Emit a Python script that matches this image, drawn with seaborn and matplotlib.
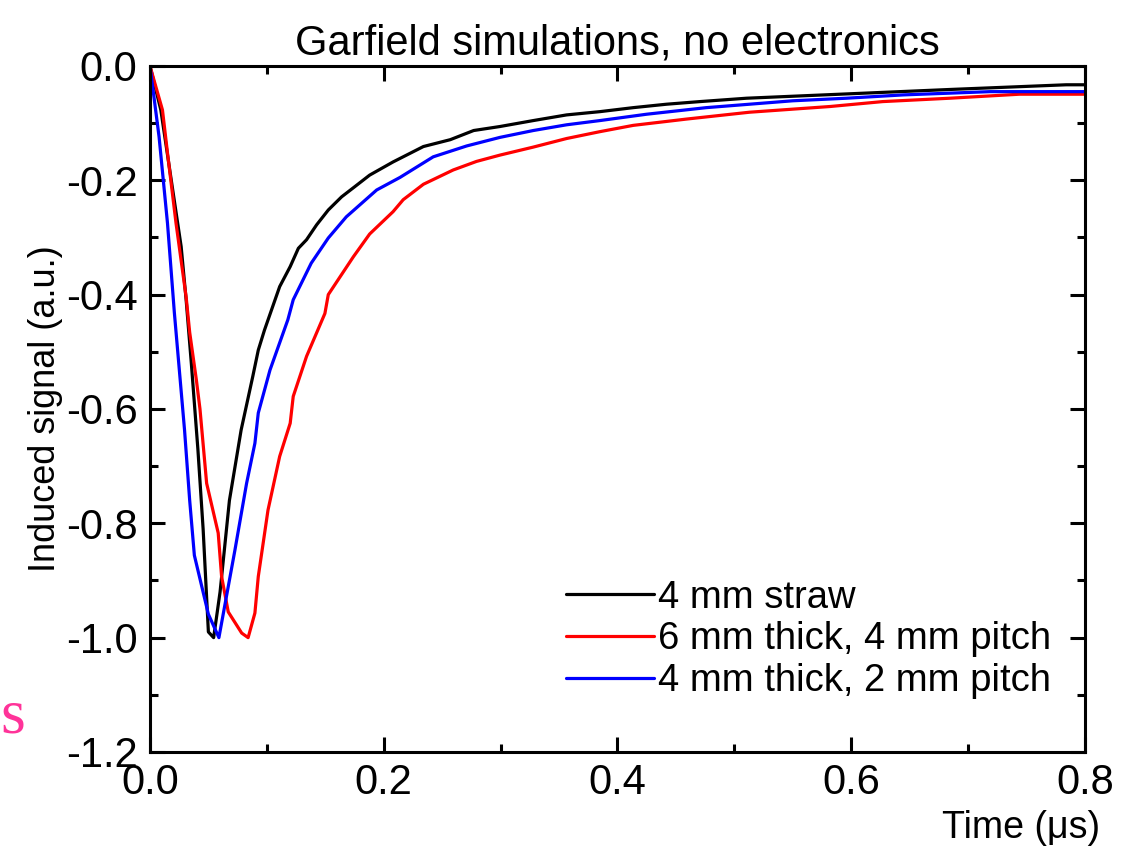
import matplotlib
matplotlib.use("Agg")
import matplotlib.pyplot as plt
from matplotlib.ticker import MultipleLocator, FormatStrFormatter
import pandas as pd
import seaborn as sns

# Garfield simulated signals
straw_t = [0.0, 0.0093, 0.0267, 0.031, 0.0354, 0.041, 0.0455, 0.050, 0.0545, 0.060,
           0.068, 0.078, 0.088, 0.0927, 0.098, 0.111, 0.120, 0.127, 0.134, 0.1426,
           0.1526, 0.164, 0.1754, 0.188, 0.208, 0.234, 0.257, 0.277, 0.2995, 0.328,
           0.3565, 0.385, 0.4135, 0.442, 0.4706, 0.5105, 0.6075, 0.687, 0.784, 0.8]
straw_v = [0.0, -0.077, -0.316, -0.41, -0.52, -0.67, -0.81, -0.99, -1.0, -0.92,
           -0.76, -0.637, -0.543, -0.497, -0.462, -0.386, -0.351, -0.319, -0.304, -0.278,
           -0.252, -0.229, -0.211, -0.191, -0.168, -0.141, -0.129, -0.113, -0.106, -0.0956,
           -0.0857, -0.080, -0.073, -0.067, -0.0624, -0.0565, -0.048, -0.041, -0.033, -0.033]

thick6_t = [0.0, 0.0107, 0.015, 0.0223, 0.031, 0.034, 0.0397, 0.0428, 0.0485, 0.0584,
            0.0613, 0.067, 0.0785, 0.084, 0.0898, 0.0927, 0.101, 0.111, 0.120, 0.1226,
            0.134, 0.1497, 0.1526, 0.174, 0.188, 0.208, 0.2167, 0.234, 0.2595, 0.2795,
            0.2995, 0.328, 0.3565, 0.385, 0.4135, 0.459, 0.513, 0.582, 0.627, 0.6845,
            0.744, 0.8]
thick6_v = [0.0, -0.077, -0.152, -0.275, -0.405, -0.466, -0.549, -0.60, -0.73, -0.817,
            -0.893, -0.955, -0.992, -1.0, -0.957, -0.893, -0.777, -0.683, -0.625, -0.578,
            -0.508, -0.433, -0.40, -0.334, -0.294, -0.255, -0.234, -0.207, -0.182, -0.167,
            -0.156, -0.142, -0.127, -0.115, -0.104, -0.093, -0.081, -0.071, -0.0624, -0.0565,
            -0.0495, -0.0495]

thick4_t = [0.0, 0.0078, 0.015, 0.0209, 0.0296, 0.034, 0.038, 0.050, 0.059, 0.0727,
            0.0827, 0.0898, 0.0927, 0.1027, 0.118, 0.1226, 0.138, 0.1526, 0.168, 0.194,
            0.214, 0.2424, 0.271, 0.2995, 0.328, 0.3565, 0.385, 0.425, 0.476, 0.550,
            0.596, 0.6445, 0.719, 0.8]
thick4_v = [0.0, -0.124, -0.275, -0.432, -0.637, -0.76, -0.856, -0.959, -1.0, -0.847,
            -0.73, -0.66, -0.607, -0.532, -0.444, -0.409, -0.345, -0.301, -0.264, -0.217,
            -0.195, -0.159, -0.140, -0.125, -0.113, -0.103, -0.0956, -0.0845, -0.073, -0.061,
            -0.0565, -0.0507, -0.045, -0.045]

labels = ["4 mm straw", "6 mm thick, 4 mm pitch", "4 mm thick, 2 mm pitch"]
colors = ["black", "red", "blue"]

df = pd.concat([
    pd.DataFrame({"t": straw_t, "v": straw_v, "geometry": labels[0]}),
    pd.DataFrame({"t": thick6_t, "v": thick6_v, "geometry": labels[1]}),
    pd.DataFrame({"t": thick4_t, "v": thick4_v, "geometry": labels[2]}),
], ignore_index=True)

sns.set_style("ticks")
plt.rcParams["font.family"] = ["Liberation Sans", "DejaVu Sans"]
plt.rcParams["text.color"] = "black"
plt.rcParams["axes.labelcolor"] = "black"
plt.rcParams["xtick.color"] = "black"
plt.rcParams["ytick.color"] = "black"
plt.rcParams["axes.edgecolor"] = "black"

fig = plt.figure(figsize=(11.36, 8.56), dpi=100)
ax = fig.add_axes([0.132, 0.1215, 0.823, 0.8015])

sns.lineplot(data=df, x="t", y="v", hue="geometry", hue_order=labels,
             palette=dict(zip(labels, colors)), sort=False, estimator=None,
             linewidth=2.3, ax=ax)

ax.set_xlim(0, 0.8)
ax.set_ylim(-1.2, 0.0)
ax.xaxis.set_major_locator(MultipleLocator(0.2))
ax.xaxis.set_minor_locator(MultipleLocator(0.1))
ax.yaxis.set_major_locator(MultipleLocator(0.2))
ax.yaxis.set_minor_locator(MultipleLocator(0.1))
ax.xaxis.set_major_formatter(FormatStrFormatter("%.1f"))
ax.yaxis.set_major_formatter(FormatStrFormatter("%.1f"))

for s in ax.spines.values():
    s.set_linewidth(2.2)
ax.tick_params(which="both", direction="in", top=True, right=True, width=2.2,
               labelsize=30)
ax.tick_params(axis="x", pad=8)
ax.tick_params(axis="y", pad=9)
ax.tick_params(which="major", length=11)
ax.tick_params(which="minor", length=6)

ax.set_xlabel("")
ax.set_ylabel("Induced signal (a.u.)", fontsize=26, labelpad=2)
ax.set_title("Garfield simulations, no electronics", fontsize=30, pad=8)
fig.text(0.968, 0.012, "Time (\u03bcs)", fontsize=27, ha="right", va="bottom")

# stray pink glyph at the left edge of the slide
fig.text(0.0, 0.144, "s", fontsize=46, color="#ff3399",
         family=["Liberation Serif", "DejaVu Serif"], ha="left", va="baseline")

ax.legend(loc="lower right", bbox_to_anchor=(0.98, 0.055), frameon=False, fontsize=27.5,
          handlelength=2.3, handletextpad=0.1, labelspacing=0.15, borderaxespad=0)

fig.savefig("out.png", dpi=100)
